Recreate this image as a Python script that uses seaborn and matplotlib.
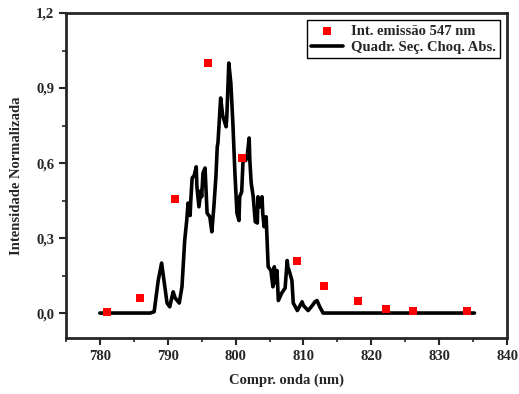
import numpy as np
import pandas as pd
import matplotlib
matplotlib.use("Agg")
import matplotlib.pyplot as plt
import seaborn as sns
from matplotlib.ticker import MultipleLocator, FuncFormatter

# emission intensity points (547 nm)
emis_x = [781.0, 785.9, 791.1, 795.9, 800.9, 809.1, 813.0, 818.0, 822.2, 826.2, 834.1]
emis_y = [0.005, 0.06, 0.455, 1.0, 0.62, 0.21, 0.11, 0.05, 0.015, 0.01, 0.007]

# absorption cross section curve
abs_x = [780.0, 787.4, 788.0, 788.6, 789.1, 789.6, 789.9, 790.3, 790.8, 791.1, 791.7,
         792.1, 792.5, 792.8, 793.0, 793.3, 793.4, 793.6, 793.9, 794.2, 794.3, 794.6,
         794.9, 795.0, 795.2, 795.5, 795.8, 796.2, 796.5, 796.8, 797.1, 797.3, 797.4,
         797.8, 798.1, 798.6, 798.7, 799.0, 799.3, 799.6, 799.9, 800.2, 800.5, 800.6,
         800.9, 801.1, 801.5, 801.7, 802.0, 802.1, 802.3, 802.6, 802.9, 803.2, 803.3,
         803.6, 803.9, 804.0, 804.2, 804.5, 804.6, 804.8, 805.2, 805.5, 805.7, 806.0,
         806.1, 806.3, 806.8, 807.3, 807.6, 807.7, 808.0, 808.3, 808.5, 809.1, 809.4,
         809.8, 810.0, 810.7, 811.3, 811.7, 812.0, 812.4, 812.9, 835.2]
abs_y = [0.0, 0.0, 0.005, 0.13, 0.2, 0.1, 0.04, 0.025, 0.085, 0.06, 0.04,
         0.105, 0.29, 0.37, 0.44, 0.39, 0.45, 0.54, 0.55, 0.585, 0.505, 0.425,
         0.49, 0.465, 0.56, 0.58, 0.40, 0.385, 0.325, 0.425, 0.545, 0.665, 0.68,
         0.86, 0.79, 0.745, 0.78, 1.0, 0.92, 0.76, 0.56, 0.40, 0.37, 0.465,
         0.485, 0.61, 0.61, 0.625, 0.70, 0.61, 0.52, 0.465, 0.365, 0.36, 0.465,
         0.425, 0.465, 0.40, 0.345, 0.385, 0.32, 0.185, 0.17, 0.105, 0.185, 0.12,
         0.17, 0.05, 0.08, 0.10, 0.21, 0.185, 0.16, 0.13, 0.04, 0.01, 0.025,
         0.045, 0.03, 0.01, 0.03, 0.045, 0.05, 0.025, 0.0, 0.0]

df_e = pd.DataFrame({"x": emis_x, "y": emis_y})
df_a = pd.DataFrame({"x": abs_x, "y": abs_y})

sns.set_style("ticks")
plt.rcParams["font.family"] = ["Liberation Serif", "DejaVu Serif"]
plt.rcParams["font.weight"] = "bold"

fig = plt.figure(figsize=(5.19, 3.94), dpi=100)
ax = fig.add_axes([0.127, 0.142, 0.85, 0.825])

sns.scatterplot(data=df_e, x="x", y="y", ax=ax, marker="s", color="#ff0000",
                s=40, linewidth=0, label="Int. emissão 547 nm", zorder=3)
sns.lineplot(data=df_a, x="x", y="y", ax=ax, color="black", linewidth=2.6,
             estimator=None, label="Quadr. Seç. Choq. Abs.")

ax.set_xlim(775, 840)
ax.set_ylim(-0.1, 1.2)
ax.xaxis.set_major_locator(MultipleLocator(10))
ax.xaxis.set_minor_locator(MultipleLocator(5))
ax.yaxis.set_major_locator(MultipleLocator(0.3))
ax.yaxis.set_minor_locator(MultipleLocator(0.15))
ax.yaxis.set_major_formatter(FuncFormatter(lambda v, p: f"{v:.1f}".replace(".", ",")))

ax.tick_params(which="major", length=5, width=1.5, labelsize=10.5)
ax.tick_params(which="minor", length=3, width=1.2)
for lab in ax.get_xticklabels() + ax.get_yticklabels():
    lab.set_fontweight("bold")
for s in ax.spines.values():
    s.set_visible(True)
    s.set_linewidth(2)

ax.set_xlabel("Compr. onda (nm)", fontsize=10.5, fontweight="bold", labelpad=8)
ax.set_ylabel("Intensidade Normalizada", fontsize=10.5, fontweight="bold", labelpad=9)

leg = ax.legend(loc="upper right", fontsize=10.5, frameon=True, fancybox=False,
                edgecolor="black", framealpha=1, handlelength=2.2,
                borderpad=0.3, labelspacing=0.2, handletextpad=0.5)
leg.get_frame().set_linewidth(1)
for t in leg.get_texts():
    t.set_fontweight("bold")

fig.savefig("out.png", dpi=100)
